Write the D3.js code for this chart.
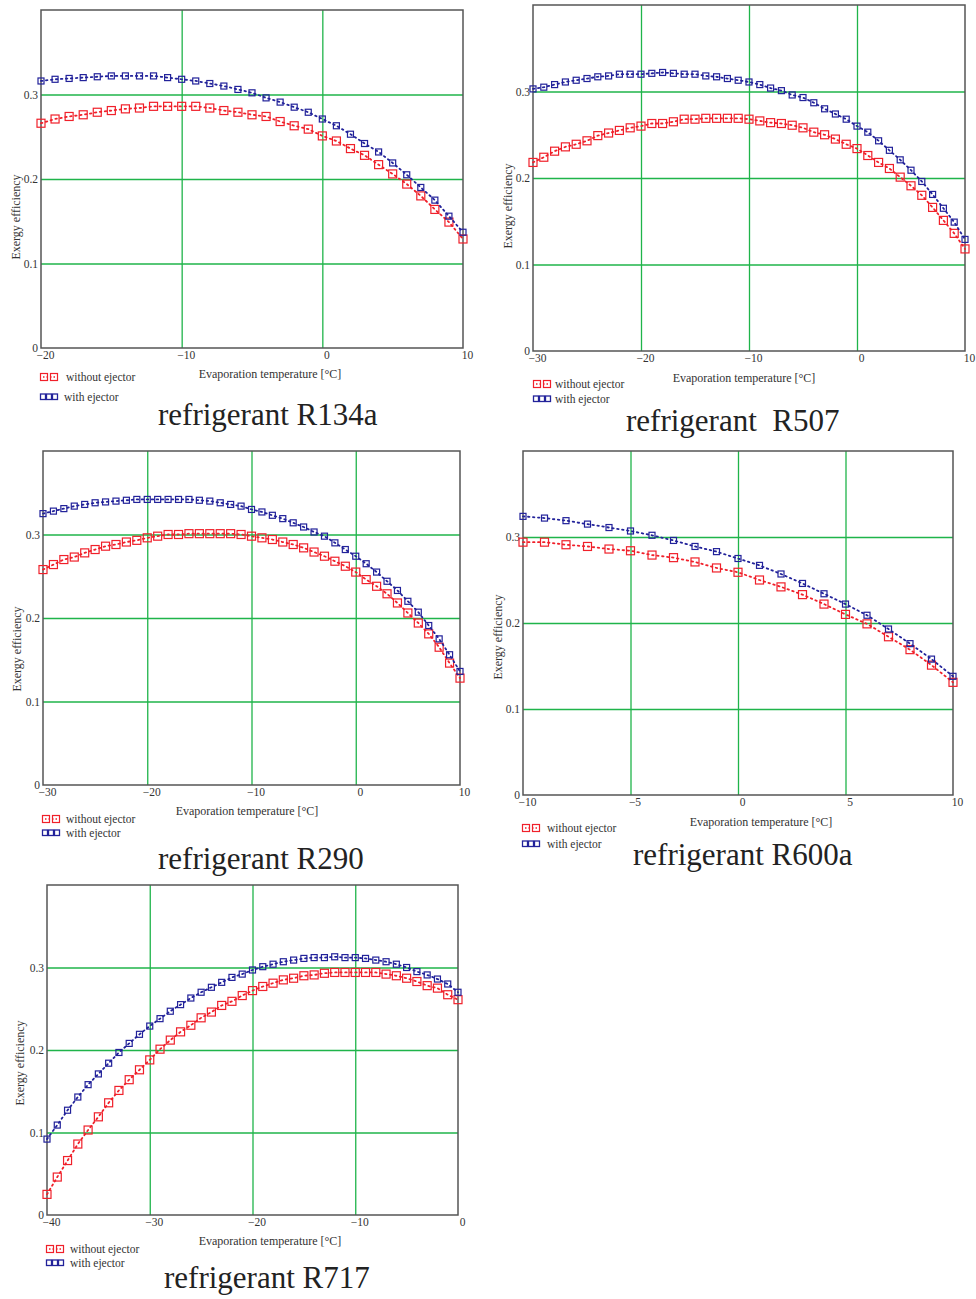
<!DOCTYPE html>
<html>
<head>
<meta charset="utf-8">
<title>Exergy efficiency vs evaporation temperature</title>
<script src="https://d3js.org/d3.v7.min.js"></script>
<style>
  body { margin: 0; background: #fff; }
  svg text { font-family: "Liberation Serif", "DejaVu Serif", serif; fill: #333; white-space: pre; }
</style>
</head>
<body>
<div id="chart"></div>
<script>
// ---- data ----
var tR134a = d3.range(-20, 11);
var r134aWithout = [0.266,0.271,0.274,0.276,0.279,0.281,0.283,0.284,0.286,0.286,0.286,0.286,0.284,0.281,0.279,0.276,0.274,0.268,0.263,0.259,0.251,0.245,0.236,0.228,0.217,0.206,0.194,0.180,0.164,0.149,0.129];
var r134aWith    = [0.316,0.318,0.319,0.320,0.321,0.322,0.322,0.322,0.322,0.320,0.318,0.316,0.313,0.310,0.306,0.302,0.296,0.291,0.285,0.279,0.271,0.263,0.253,0.242,0.232,0.219,0.205,0.190,0.175,0.156,0.137];

var tR507 = d3.range(-30, 11);
var r507Without = [0.218,0.224,0.231,0.236,0.239,0.243,0.249,0.252,0.255,0.258,0.260,0.263,0.263,0.265,0.268,0.268,0.269,0.269,0.269,0.269,0.268,0.266,0.264,0.263,0.261,0.258,0.253,0.250,0.245,0.239,0.234,0.226,0.218,0.211,0.201,0.191,0.180,0.166,0.151,0.136,0.118];
var r507With    = [0.303,0.305,0.308,0.311,0.313,0.315,0.317,0.318,0.320,0.320,0.320,0.321,0.322,0.321,0.320,0.320,0.318,0.317,0.315,0.313,0.311,0.308,0.304,0.301,0.296,0.293,0.287,0.280,0.274,0.268,0.260,0.253,0.243,0.232,0.221,0.209,0.196,0.181,0.165,0.149,0.129];

var tR290 = d3.range(-30, 11);
var r290Without = [0.258,0.264,0.270,0.273,0.278,0.282,0.286,0.288,0.291,0.293,0.296,0.298,0.300,0.300,0.301,0.301,0.301,0.301,0.301,0.300,0.298,0.296,0.294,0.291,0.288,0.284,0.279,0.274,0.268,0.262,0.255,0.246,0.238,0.229,0.218,0.206,0.194,0.181,0.165,0.146,0.128];
var r290With    = [0.325,0.328,0.331,0.334,0.336,0.338,0.339,0.340,0.341,0.342,0.342,0.342,0.342,0.342,0.342,0.341,0.340,0.338,0.336,0.334,0.330,0.327,0.323,0.319,0.314,0.309,0.303,0.298,0.290,0.282,0.274,0.265,0.255,0.244,0.233,0.220,0.207,0.191,0.175,0.156,0.136];

var tR600a = d3.range(-10, 11);
var r600aWithout = [0.294,0.294,0.291,0.289,0.286,0.284,0.279,0.276,0.271,0.264,0.259,0.250,0.242,0.233,0.222,0.210,0.199,0.184,0.169,0.151,0.131];
var r600aWith    = [0.324,0.322,0.319,0.315,0.311,0.307,0.302,0.296,0.289,0.283,0.275,0.267,0.257,0.246,0.234,0.222,0.209,0.193,0.176,0.158,0.138];

var tR717 = d3.range(-40, 1);
var r717Without = [0.025,0.046,0.066,0.086,0.103,0.119,0.136,0.151,0.164,0.176,0.188,0.201,0.212,0.222,0.230,0.239,0.246,0.254,0.259,0.266,0.272,0.277,0.281,0.285,0.287,0.290,0.291,0.293,0.294,0.294,0.294,0.294,0.294,0.292,0.290,0.287,0.283,0.278,0.275,0.267,0.261];
var r717With    = [0.092,0.109,0.127,0.143,0.158,0.171,0.184,0.197,0.208,0.219,0.229,0.238,0.247,0.255,0.263,0.270,0.276,0.282,0.288,0.292,0.297,0.301,0.304,0.307,0.309,0.311,0.312,0.312,0.313,0.312,0.312,0.311,0.309,0.307,0.304,0.300,0.295,0.291,0.286,0.280,0.270];

var yTicks = [0, 0.1, 0.2, 0.3];
var legendLabels = ["without ejector", "with ejector"];

var RED = "#f0202a", BLUE = "#22229a", GRID = "#1fb44a", FRAME = "#555";

var svg = d3.select("#chart").append("svg")
    .attr("width", 976).attr("height", 1299);

// panel layout
var panels = [
  { t: tR134a, a: r134aWithout, b: r134aWith, xDom: [-20, 10], xTicks: [-20, -10, 0, 10],
    box: [41, 10, 463, 348], xTitle: [270, 378], yTitle: [16, 217], leg: [40, 377, 397], legTx: [66, 64],
    title: "refrigerant R134a", titlePos: [158, 425] },
  { t: tR507, a: r507Without, b: r507With, xDom: [-30, 10], xTicks: [-30, -20, -10, 0, 10],
    box: [533, 5, 965, 351], xTitle: [744, 382], yTitle: [508, 206], leg: [533, 384, 399], legTx: [555, 555],
    title: "refrigerant  R507", titlePos: [626, 431] },
  { t: tR290, a: r290Without, b: r290With, xDom: [-30, 10], xTicks: [-30, -20, -10, 0, 10],
    box: [43, 451, 460, 785], xTitle: [247, 815], yTitle: [17, 649], leg: [42, 819, 833], legTx: [66, 66],
    title: "refrigerant R290", titlePos: [158, 869] },
  { t: tR600a, a: r600aWithout, b: r600aWith, xDom: [-10, 10], xTicks: [-10, -5, 0, 5, 10],
    box: [523, 451, 953, 795], xTitle: [761, 826], yTitle: [498, 637], leg: [522, 828, 844], legTx: [547, 547],
    title: "refrigerant R600a", titlePos: [633, 865] },
  { t: tR717, a: r717Without, b: r717With, xDom: [-40, 0], xTicks: [-40, -30, -20, -10, 0],
    box: [47, 885, 458, 1215], xTitle: [270, 1245], yTitle: [20, 1063], leg: [46, 1249, 1263], legTx: [70, 70],
    title: "refrigerant R717", titlePos: [164, 1288] }
];

panels.forEach(function(p) {
  var x = d3.scaleLinear().domain(p.xDom).range([p.box[0], p.box[2]]);
  var y = d3.scaleLinear().domain([0, 0.4]).range([p.box[3], p.box[1]]);
  var g = svg.append("g");

  // grid
  var inner = p.xTicks.slice(1, -1);
  g.append("g").attr("transform", "translate(0," + p.box[3] + ")")
    .call(d3.axisBottom(x).tickValues(inner).tickSize(-(p.box[3] - p.box[1])).tickFormat(""))
    .call(function(s) { s.select(".domain").remove(); s.selectAll("line").attr("stroke", GRID).attr("stroke-width", 1.3); });
  g.append("g").attr("transform", "translate(" + p.box[0] + ",0)")
    .call(d3.axisLeft(y).tickValues([0.1, 0.2, 0.3]).tickSize(-(p.box[2] - p.box[0])).tickFormat(""))
    .call(function(s) { s.select(".domain").remove(); s.selectAll("line").attr("stroke", GRID).attr("stroke-width", 1.3); });

  // tick labels
  g.append("g").attr("transform", "translate(4," + p.box[3] + ")")
    .call(d3.axisBottom(x).tickValues(p.xTicks).tickSize(0).tickPadding(3))
    .call(function(s) { s.select(".domain").remove(); s.selectAll("text").attr("font-size", 11.5).attr("fill", "#333"); });
  g.append("g").attr("transform", "translate(" + p.box[0] + ",0)")
    .call(d3.axisLeft(y).tickValues(yTicks).tickSize(0).tickPadding(3)
      .tickFormat(function(d) { return d === 0 ? "0" : d3.format(".1f")(d); }))
    .call(function(s) { s.select(".domain").remove(); s.selectAll("text").attr("font-size", 11.5).attr("fill", "#333"); });

  // frame
  g.append("rect").attr("x", p.box[0]).attr("y", p.box[1])
    .attr("width", p.box[2] - p.box[0]).attr("height", p.box[3] - p.box[1])
    .attr("fill", "none").attr("stroke", FRAME).attr("stroke-width", 1.5);

  // series
  var line = d3.line().x(function(d) { return x(d[0]); }).y(function(d) { return y(d[1]); });
  [[p.a, RED, 8], [p.b, BLUE, 6]].forEach(function(s) {
    var pts = p.t.map(function(t, i) { return [t, s[0][i]]; });
    g.append("path").datum(pts).attr("d", line)
      .attr("fill", "none").attr("stroke", s[1]).attr("stroke-width", 1.8)
      .attr("stroke-dasharray", "1.5,3.5").attr("stroke-linecap", "round");
    g.selectAll(null).data(pts).enter().append("rect")
      .attr("x", function(d) { return x(d[0]) - s[2] / 2; })
      .attr("y", function(d) { return y(d[1]) - s[2] / 2; })
      .attr("width", s[2]).attr("height", s[2])
      .attr("fill", "none").attr("stroke", s[1]).attr("stroke-width", 1.2);
  });

  // legend
  var lx = p.leg[0];
  g.append("line").attr("x1", lx + 3).attr("x2", lx + 15).attr("y1", p.leg[1]).attr("y2", p.leg[1])
    .attr("stroke", RED).attr("stroke-width", 1.5).attr("stroke-dasharray", "1.5,2");
  [lx + 4, lx + 14].forEach(function(cx) {
    g.append("rect").attr("x", cx - 3.5).attr("y", p.leg[1] - 3.5).attr("width", 7).attr("height", 7)
      .attr("fill", "none").attr("stroke", RED).attr("stroke-width", 1.2);
  });
  [lx + 3, lx + 9, lx + 15].forEach(function(cx) {
    g.append("rect").attr("x", cx - 2.5).attr("y", p.leg[2] - 3).attr("width", 5).attr("height", 5.5)
      .attr("fill", "none").attr("stroke", BLUE).attr("stroke-width", 1.3);
  });
  g.append("text").attr("x", p.legTx[0]).attr("y", p.leg[1] + 4).attr("font-size", 11.5).text(legendLabels[0]);
  g.append("text").attr("x", p.legTx[1]).attr("y", p.leg[2] + 4).attr("font-size", 11.5).text(legendLabels[1]);

  // axis titles
  g.append("text").attr("x", p.xTitle[0]).attr("y", p.xTitle[1]).attr("text-anchor", "middle")
    .attr("font-size", 12).text("Evaporation temperature [\u00B0C]");
  g.append("text").attr("transform", "translate(" + p.yTitle[0] + "," + p.yTitle[1] + ") rotate(-90)")
    .attr("text-anchor", "middle").attr("dy", "0.35em").attr("font-size", 12).text("Exergy efficiency");

  // panel title
  g.append("text").attr("x", p.titlePos[0]).attr("y", p.titlePos[1])
    .attr("font-size", 31).style("fill", "#222").text(p.title);
});
</script>
</body>
</html>
